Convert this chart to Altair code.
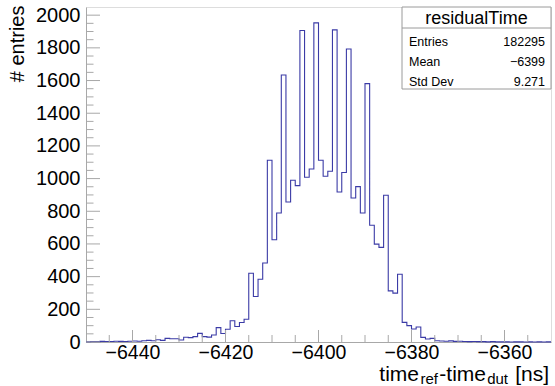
import altair as alt
import pandas as pd

FONT = "Liberation Sans"
GRAY = "#a8a8a8"

# histogram: 1 ns bins from -6450 to -6350 (left edges) and counts
bin_left = list(range(-6450, -6350))
counts = [
    1, 2, 2, 4, 3, 3, 5, 4, 3, 5,            # -6450 .. -6441
    6, 5, 8, 10, 8, 14, 10, 22, 20, 20,      # -6440 .. -6431
    12, 29, 27, 33, 53, 33, 30, 43, 88, 52,  # -6430 .. -6421
    78, 130, 95, 119, 139, 421, 278, 384, 483, 1112,   # -6420 .. -6411
    626, 789, 1634, 857, 990, 957, 1906, 1008, 1059, 1953,  # -6410 .. -6401
    1112, 1014, 1045, 1910, 918, 1037, 1793, 881, 951, 789,  # -6400 .. -6391
    1581, 714, 599, 579, 898, 313, 299, 415, 120, 100,       # -6390 .. -6381
    80, 92, 28, 18, 22, 8, 6, 5, 7, 4,       # -6380 .. -6371
    5, 3, 2, 3, 2, 2, 1, 2, 1, 1,            # -6370 .. -6361
    1, 0, 1, 1, 0, 1, 0, 1, 0, 1,            # -6360 .. -6351
]
x_end = -6350

x_major = [-6440, -6420, -6400, -6380, -6360]
x_minor = [-6445, -6435, -6430, -6425, -6415, -6410, -6405, -6395, -6390,
           -6385, -6375, -6370, -6365, -6355]
y_major = [0, 200, 400, 600, 800, 1000, 1200, 1400, 1600, 1800, 2000]
y_minor = [v for v in range(50, 2050, 50) if v % 200 != 0]

stats_title = "residualTime"
stats_labels = ["Entries", "Mean", "Std Dev"]
stats_values = ["182295", "\u22126399", "9.271"]

W, H = 465, 335

hist = pd.DataFrame({"x": bin_left + [x_end], "y": counts + [counts[-1]]})

xscale = alt.Scale(domain=[-6450, -6350], nice=False, zero=False)
yscale = alt.Scale(domain=[0, 2050], nice=False, zero=True)

xaxis = alt.Axis(values=x_major, format="d", ticks=False, grid=False,
                 labelFontSize=19.5, labelFont=FONT, labelColor="black",
                 labelPadding=1, domainColor=GRAY, labelFlush=False,
                 labelOverlap=False)
yaxis = alt.Axis(values=y_major, format="d", ticks=False, grid=False,
                 labelFontSize=20, labelFont=FONT, labelColor="black",
                 labelPadding=6, domainColor=GRAY, labelOverlap=False,
                 labelFlush=False,
                 titleFont=FONT, titleFontSize=20, titleFontWeight="normal",
                 titleColor="black", titleAngle=270, titleAlign="right",
                 titleBaseline="alphabetic", titleX=-63, titleY=-2)

X = lambda: alt.X("x:Q", scale=xscale, axis=xaxis, title=None)
Y = lambda: alt.Y("y:Q", scale=yscale, axis=yaxis, title="# entries")

line = alt.Chart(hist).mark_line(
    interpolate="step-after", color="#3b3ba6", strokeWidth=1.1
).encode(x=X(), y=Y())

xmaj = alt.Chart(pd.DataFrame({"x": x_major})).mark_rule(color=GRAY).encode(
    x=X(), y=alt.value(H), y2=alt.value(H - 12))
xmin = alt.Chart(pd.DataFrame({"x": x_minor})).mark_rule(color=GRAY).encode(
    x=X(), y=alt.value(H), y2=alt.value(H - 7))
ymaj = alt.Chart(pd.DataFrame({"y": y_major})).mark_rule(color=GRAY).encode(
    y=Y(), x=alt.value(0), x2=alt.value(14))
ymin = alt.Chart(pd.DataFrame({"y": y_minor})).mark_rule(color=GRAY).encode(
    y=Y(), x=alt.value(0), x2=alt.value(7.5))

one = pd.DataFrame({"k": [0]})


def txt(s, x, y, size, align="left", baseline="alphabetic"):
    return alt.Chart(one).mark_text(
        text=s, align=align, baseline=baseline, fontSize=size, font=FONT,
        color="black"
    ).encode(x=alt.value(x), y=alt.value(y))


box = alt.Chart(one).mark_rect(fill="white", stroke="#9a9a9a", strokeWidth=1).encode(
    x=alt.value(316), x2=alt.value(W), y=alt.value(0), y2=alt.value(82))
divider = alt.Chart(one).mark_rule(color="#9a9a9a").encode(
    x=alt.value(316), x2=alt.value(W), y=alt.value(21), y2=alt.value(21))

stats_layers = [box, divider, txt(stats_title, 390.5, 17, 18, align="center")]
for i, (lab, val) in enumerate(zip(stats_labels, stats_values)):
    yy = 39 + 20 * i
    stats_layers.append(txt(lab, 323, yy, 12.5))
    stats_layers.append(txt(val, 459, yy, 12.5, align="right"))

# x title with subscripts: time_ref - time_dut [ns]
title_layers = [
    txt(" [ns]", 463, 374, 21, align="right"),
    txt("dut", 422, 376.5, 15, align="right"),
    txt("-time", 400, 374, 21, align="right"),
    txt("ref", 352, 376.5, 15, align="right"),
    txt("time", 333, 374, 21, align="right"),
]

chart = alt.layer(
    line, xmin, xmaj, ymin, ymaj, *stats_layers, *title_layers
).properties(
    width=W, height=H,
    padding={"left": 86, "top": 7, "right": 4, "bottom": 44},
    autosize=alt.AutoSizeParams(type="none"),
).configure_view(stroke="#c4c4c4", strokeWidth=1).configure(background="white")

chart.save("out.html", embed_options={"renderer": "svg", "actions": False})
